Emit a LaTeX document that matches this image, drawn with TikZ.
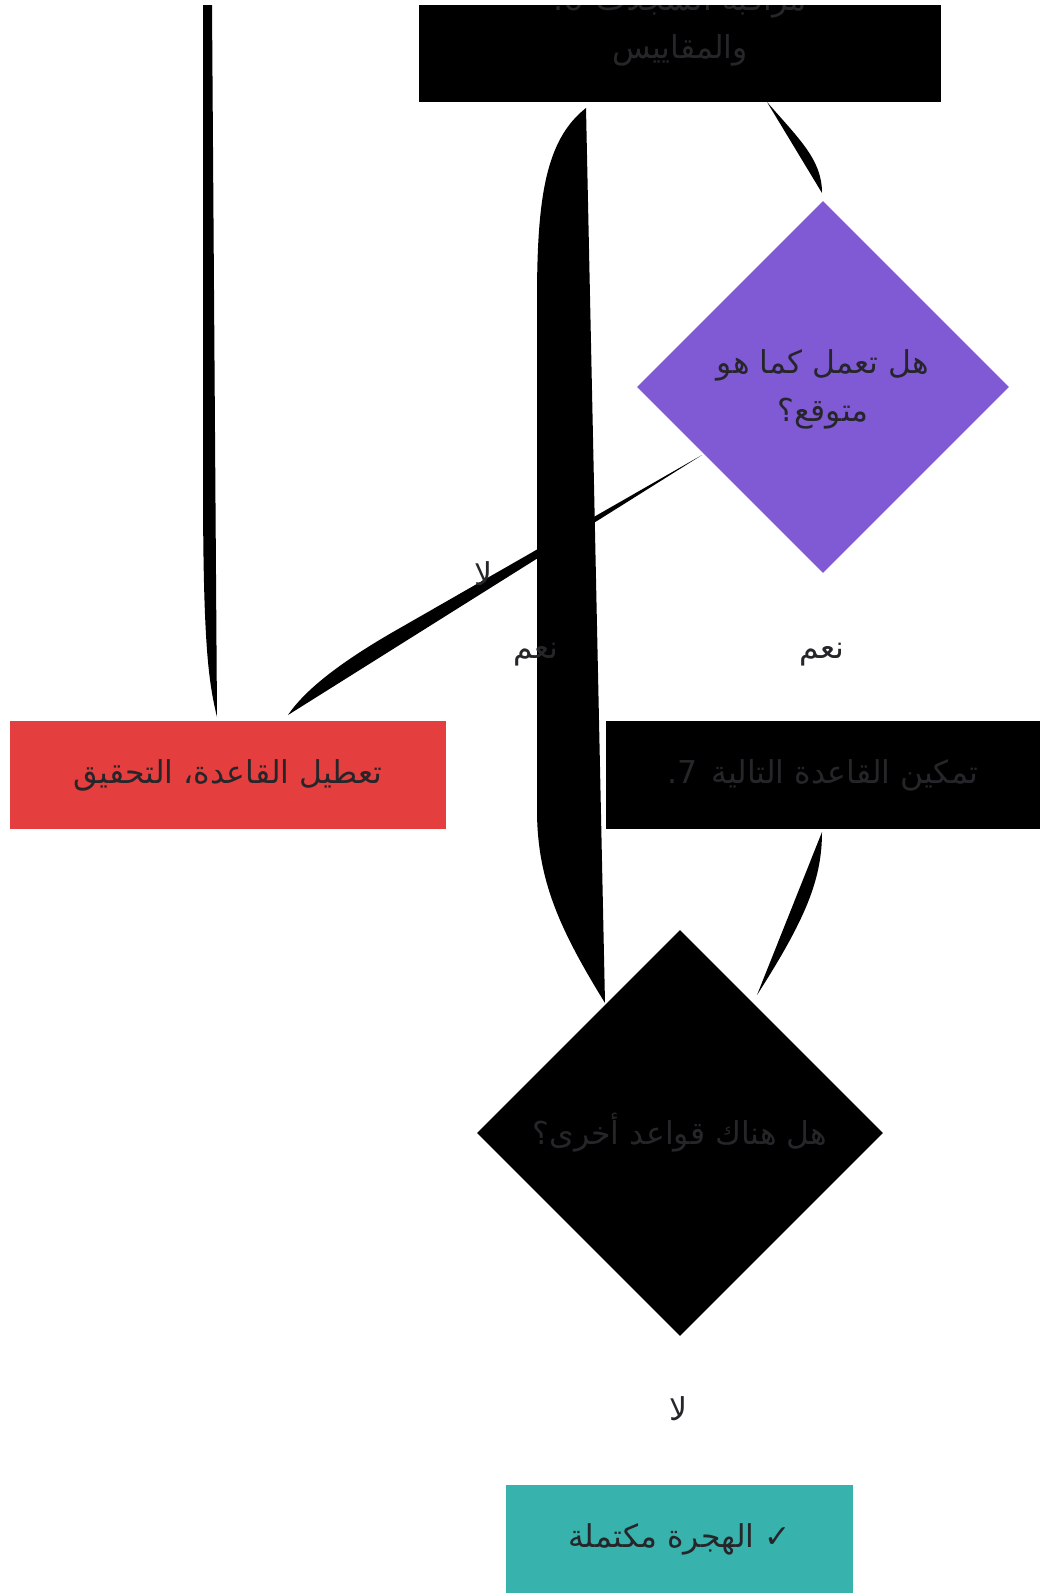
\documentclass[tikz,border=0pt]{standalone}
\usepackage{fontspec}
\usetikzlibrary{shapes.geometric}
\TeXXeTstate=1
\newfontfamily\arabicfont[Script=Arabic]{DejaVu Sans}
\definecolor{txt}{RGB}{38,38,42}
\definecolor{purp}{RGB}{128,90,213}
\definecolor{redb}{RGB}{229,62,62}
\definecolor{tealb}{RGB}{56,178,172}
\begin{document}
\begin{tikzpicture}[x=1pt,y=-1pt,
  afont/.style={font=\arabicfont\fontsize{31.5}{48}\selectfont},
  box/.style={rectangle, inner sep=0pt, text=txt, afont, align=center},
  dia/.style={diamond, inner sep=0pt, text=txt, afont, align=center},
  lbl/.style={text=txt, afont, inner sep=0pt},
  edgefill/.style={fill=black}]
\fill[white] (0,0) rectangle (1044,1593);
\useasboundingbox (0,0) rectangle (1044,1593);
\begin{scope}
\clip (0,5) rectangle (1044,1593);
% end points of connectors
\coordinate (aTop) at (203,-1276);
\coordinate (aEnd) at (217,717);
\coordinate (bTop) at (586,108);
\coordinate (bEnd) at (605,1003);
\coordinate (cStart) at (767,102);
\coordinate (cEnd) at (822,193);
\coordinate (dStart) at (702,455);
\coordinate (dEnd) at (288,715);
\coordinate (eStart) at (822,832);
\coordinate (eEnd) at (757,995);
% connectors (rendered as filled paths)
\fill[edgefill] (aTop) -- (203,480) .. controls (203,640) and (208,680) .. (aEnd) -- cycle;
\fill[edgefill] (cStart) .. controls (800,140) and (822,160) .. (cEnd) -- cycle;
\fill[edgefill] (dStart) -- (400,628) .. controls (340,662) and (305,690) .. (dEnd) -- cycle;
\fill[edgefill] (bTop) .. controls (545,140) and (537,200) .. (537,300) -- (537,810) .. controls (537,880) and (560,930) .. (bEnd) -- cycle;
\fill[edgefill] (eStart) .. controls (822,880) and (805,920) .. (eEnd) -- cycle;
% nodes
\node[box, fill=black, minimum width=522pt, minimum height=152pt] (n6) at (680,26)
  {6. \beginR مراقبة السجلات\endR\\ \beginR والمقاييس\endR};
\node[dia, fill=purp, minimum width=372pt, minimum height=372pt] (q1) at (823,387) {};
\node[text=txt, afont, align=center, inner sep=0pt] (q1t) at (823,389)
  {\beginR هل تعمل كما هو\endR\\ \beginR متوقع؟\endR};
\node[box, fill=redb, minimum width=436pt, minimum height=108pt] (dis) at (228,775)
  {\beginR تعطيل القاعدة، التحقيق\endR};
\node[box, fill=black, minimum width=434pt, minimum height=108pt] (n7) at (823,775)
  {7. \beginR تمكين القاعدة التالية\endR};
\node[dia, fill=black, minimum width=406pt, minimum height=406pt] (q2) at (680,1133)
  {\beginR هل هناك قواعد أخرى؟\endR};
\node[box, fill=tealb, minimum width=347pt, minimum height=108pt] (done) at (679.5,1539)
  {\beginR الهجرة مكتملة\endR\ ✓};
% labels
\node[lbl] (l1) at (483,574) {\beginR لا\endR};
\node[lbl] (l2) at (536,655) {\beginR نعم\endR};
\node[lbl] (l3) at (822,655) {\beginR نعم\endR};
\node[lbl] (l4) at (678,1409) {\beginR لا\endR};
\end{scope}
\end{tikzpicture}
\end{document}
